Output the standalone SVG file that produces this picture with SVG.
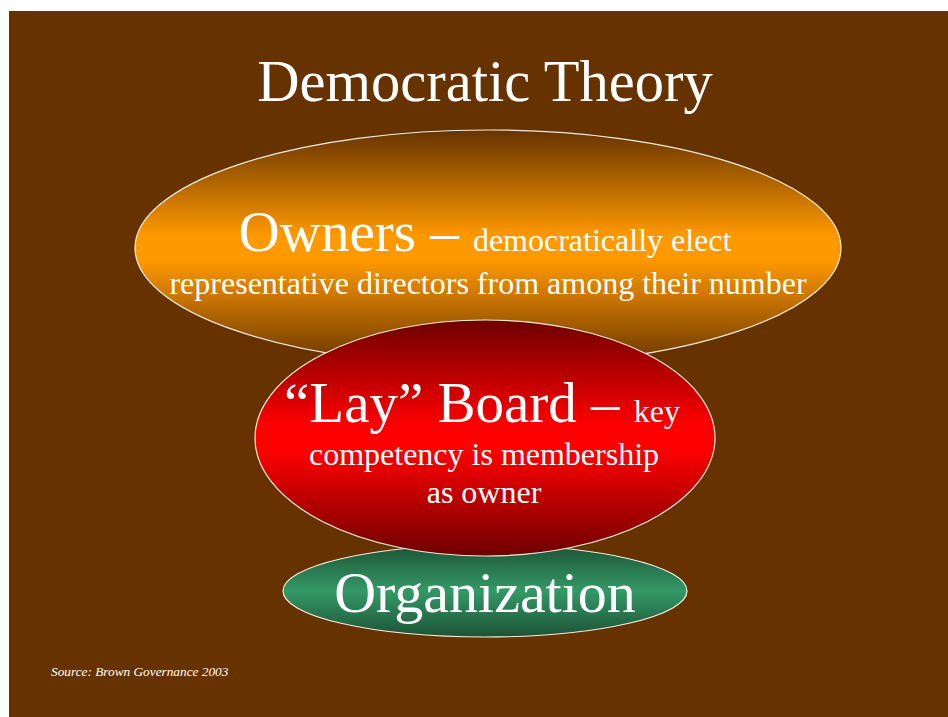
<svg xmlns="http://www.w3.org/2000/svg" width="948" height="717" viewBox="0 0 948 717">
  <style>
    .t { font-family: "Liberation Serif", "Times New Roman", serif; fill: #ffffff; text-anchor: middle; }
    .big { font-size: 57px; }
    .small { font-size: 32px; }
    .oval { stroke: #f2ece0; stroke-width: 1.2; }
  </style>
  <defs>
    <linearGradient id="gOwners" x1="0" y1="0" x2="0" y2="1">
      <stop offset="0" stop-color="#663300"/>
      <stop offset="0.45" stop-color="#ff9900"/>
      <stop offset="0.55" stop-color="#ff9900"/>
      <stop offset="1" stop-color="#663300"/>
    </linearGradient>
    <linearGradient id="gBoard" x1="0" y1="0" x2="0" y2="1">
      <stop offset="0" stop-color="#6e0000"/>
      <stop offset="0.45" stop-color="#ff0000"/>
      <stop offset="0.55" stop-color="#ff0000"/>
      <stop offset="1" stop-color="#6e0000"/>
    </linearGradient>
    <linearGradient id="gOrg" x1="0" y1="0" x2="0" y2="1">
      <stop offset="0" stop-color="#1d5236"/>
      <stop offset="0.5" stop-color="#339966"/>
      <stop offset="1" stop-color="#1d5236"/>
    </linearGradient>
  </defs>

  <!-- slide background -->
  <rect x="9" y="11" width="939" height="706" fill="#663300"/>

  <text class="t" x="485" y="101" font-size="58.5">Democratic Theory</text>

  <g id="owners">
    <ellipse class="oval" cx="488" cy="248" rx="353" ry="118" fill="url(#gOwners)"/>
    <text class="t" x="485" y="251"><tspan class="big">Owners – </tspan><tspan class="small">democratically elect</tspan></text>
    <text class="t small" x="488" y="294">representative directors from among their number</text>
  </g>

  <g id="organization">
    <ellipse class="oval" cx="485" cy="591" rx="202" ry="46" fill="url(#gOrg)"/>
    <text class="t" x="485" y="612" font-size="58">Organization</text>
  </g>

  <g id="board">
    <ellipse class="oval" cx="485" cy="438" rx="230" ry="118" fill="url(#gBoard)"/>
    <text class="t" x="482" y="422"><tspan class="big">“Lay” Board – </tspan><tspan class="small">key</tspan></text>
    <text class="t small" x="484" y="465">competency is membership</text>
    <text class="t small" x="484" y="503">as owner</text>
  </g>

  <g id="connectors"/>

  <text x="51" y="676" font-family="Liberation Serif, 'Times New Roman', serif" font-style="italic" font-size="13.3" fill="#ffffff">Source: Brown Governance 2003</text>
</svg>
